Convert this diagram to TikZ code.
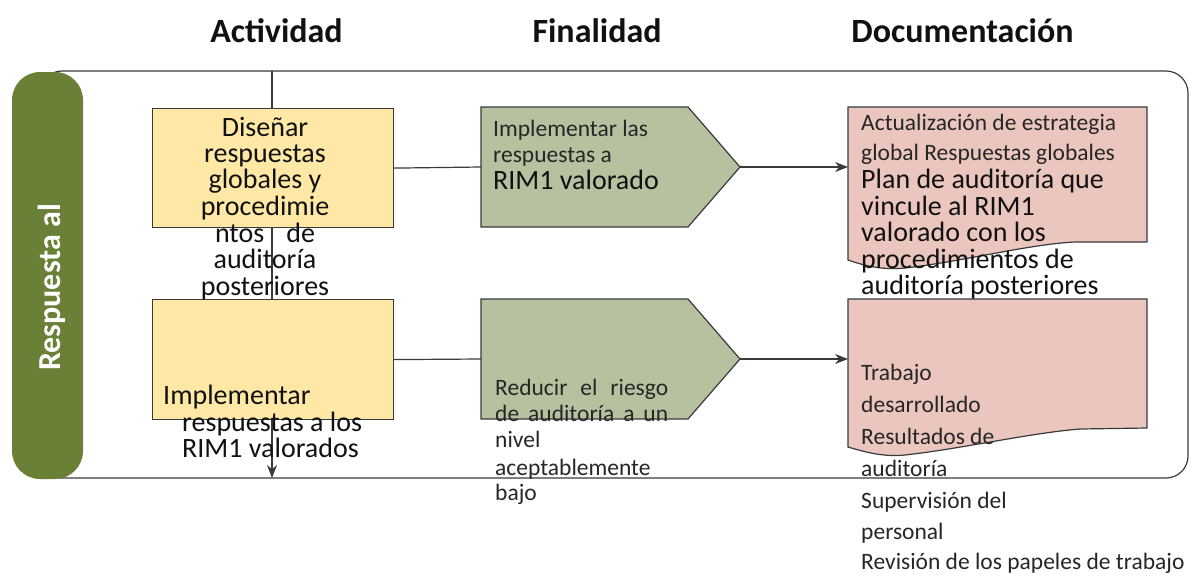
\documentclass[tikz,border=0pt]{standalone}
\usepackage{fontspec}
\setmainfont{Carlito}
\usetikzlibrary{arrows.meta}
\definecolor{pillgreen}{HTML}{6A8036}
\definecolor{boxyellow}{HTML}{FFE8A6}
\definecolor{sage}{HTML}{B6C19F}
\definecolor{docpink}{HTML}{EBC6BE}
\definecolor{edgec}{HTML}{3A3A3A}
\definecolor{txt}{HTML}{111111}
\definecolor{txtsoft}{HTML}{262626}
\begin{document}
\begin{tikzpicture}[x=1pt,y=-1pt,
  hdr/.style={font=\fontsize{34}{40}\selectfont\bfseries, anchor=base, inner sep=0, text=txt},
  bigc/.style={font=\fontsize{28}{26.5}\selectfont, anchor=base, inner sep=0, text=txt},
  bigl/.style={font=\fontsize{28}{26.5}\selectfont, anchor=base west, inner sep=0, text=txt},
  smalll/.style={font=\fontsize{23.5}{26}\selectfont, anchor=base west, inner sep=0, text=txtsoft},
  ybox/.style={draw=edgec, line width=1.2pt, fill=boxyellow, anchor=north west, inner sep=0},
  fshape/.style={draw=edgec, line width=1.2pt, fill=sage},
  dshape/.style={draw=edgec, line width=1.2pt, fill=docpink},
  conn/.style={draw=edgec, line width=1.2pt},
  arr/.style={conn, -{Stealth[length=13pt,width=10pt]}}
]
\useasboundingbox (0,0) rectangle (1193,576);

% headers
\node[hdr] (h1) at (276.5,42) {Actividad};
\node[hdr] (h2) at (597,42) {Finalidad};
\node[hdr] (h3) at (962.5,42) {Documentación};

% outer frame
\draw[draw=edgec, line width=1.2pt, rounded corners=22pt] (40,71) rectangle (1188,478);
% pill
\fill[pillgreen, rounded corners=28pt] (12,72) rectangle (83,479);
\node[font=\fontsize{32}{36}\selectfont\bfseries, text=white, rotate=90, anchor=base, inner sep=0] (pl) at (60,287.5) {Respuesta al};

% vertical flow line
\coordinate (vtop) at (272,71);
\coordinate (vbot) at (272,478);
\draw[arr] (vtop) -- (vbot);

% yellow boxes
\node[ybox, minimum width=241pt, minimum height=119pt] (a1) at (152,108) {};
\node[ybox, minimum width=241pt, minimum height=120pt] (a2) at (152,299) {};

% green pentagons
\draw[fshape] (481,107) -- (688,107) -- (740,167) -- (688,227) -- (481,227) -- cycle;
\draw[fshape] (481,299) -- (688,299) -- (740,359) -- (688,419) -- (481,419) -- cycle;
\coordinate (f1w) at (481,167);
\coordinate (f1e) at (740,167);
\coordinate (f2w) at (481,359);
\coordinate (f2e) at (740,359);

% documents
\draw[dshape] (848,107) -- (1147,107) -- (1147,242) -- (1075,242)
  .. controls (1030,244) and (960,262) .. (905,268)
  .. controls (885,270) and (868,267) .. (848,260) -- cycle;
\draw[dshape] (848,299) -- (1147,299) -- (1147,428) -- (1080,429)
  .. controls (1030,433) and (960,449) .. (905,455)
  .. controls (885,457) and (868,453) .. (848,447) -- cycle;
\coordinate (d1w) at (848,167);
\coordinate (d2w) at (848,359);

% connectors
\draw[conn] (a1.east) -- (f1w);
\draw[conn] (a2.east) -- (f2w);
\draw[arr] (f1e) -- (d1w);
\draw[arr] (f2e) -- (d2w);

% activity texts
\node[bigc] (t1) at (265,136) {Diseñar};
\node[bigc] (t2) at (265,162) {respuestas};
\node[bigc] (t3) at (265,188) {globales y};
\node[bigc] (t4) at (265,215) {procedimie};
\node[bigc] (t5) at (265,242) {\makebox[100pt][s]{ntos de}};
\node[bigc] (t6) at (265,268) {auditoría};
\node[bigc] (t7) at (265,295) {posteriores};

\node[bigl] (u1) at (163,404) {Implementar};
\node[bigl] (u2) at (182,431) {respuestas a los};
\node[bigl] (u3) at (182,457.7) {RIM1 valorados};

% finalidad texts
\node[smalll] (g1) at (493,136.7) {Implementar las};
\node[smalll] (g2) at (493,162.7) {respuestas a};
\node[bigl] (g3) at (493,189.3) {RIM1 valorado};

\node[smalll] (r1) at (495,395) {\makebox[173pt][s]{Reducir el riesgo}};
\node[smalll] (r2) at (495,421) {\makebox[173pt][s]{de auditoría a un}};
\node[smalll] (r3) at (495,447.7) {nivel};
\node[smalll] (r4) at (495,475) {aceptablemente};
\node[smalll] (r5) at (495,500) {bajo};

% documentation texts
\node[smalll] (p1) at (861,130) {Actualización de estrategia};
\node[smalll] (p2) at (861,160) {global Respuestas globales};
\node[bigl] (p3) at (861,188.3) {Plan de auditoría que};
\node[bigl] (p4) at (861,215) {vincule al RIM1};
\node[bigl] (p5) at (861,241.7) {valorado con los};
\node[bigl] (p6) at (861,268.3) {procedimientos de};
\node[bigl] (p7) at (861,294) {auditoría posteriores};

\node[smalll] (q1) at (861,380) {Trabajo};
\node[smalll] (q2) at (861,412.7) {desarrollado};
\node[smalll] (q3) at (861,444) {Resultados de};
\node[smalll] (q4) at (861,476) {auditoría};
\node[smalll] (q5) at (861,508) {Supervisión del};
\node[smalll] (q6) at (861,539) {personal};
\node[smalll] (q7) at (861,569.5) {Revisión de los papeles de trabajo};
\end{tikzpicture}
\end{document}
